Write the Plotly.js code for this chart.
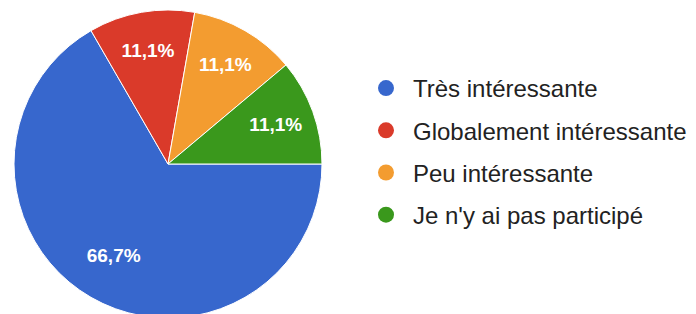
<!DOCTYPE html>
<html><head><meta charset="utf-8">
<script src="https://cdn.plot.ly/plotly-3.0.1.min.js"></script>
<style>html,body{margin:0;padding:0;overflow:hidden;background:#fff}#chart{width:696px;height:322px}</style>
</head><body><div id="chart"></div>
<script>
const labels = ["Très intéressante", "Globalement intéressante", "Peu intéressante", "Je n'y ai pas participé"];
const values = [6, 1, 1, 1];
const colors = ["#3767cd", "#da3a2a", "#f39c30", "#3a981c"];

const traces = [{
  type: 'pie',
  labels: labels,
  values: values,
  sort: false,
  direction: 'clockwise',
  rotation: 90,
  marker: {colors: colors, line: {color: '#ffffff', width: 1}},
  texttemplate: ['\u00a0<br>\u00a0<br>%{percent:.1%}\u00a0\u00a0\u00a0\u00a0\u00a0\u00a0', '%{percent:.1%}', '%{percent:.1%}', '%{percent:.1%}'],
  textposition: 'inside',
  insidetextorientation: 'horizontal',
  textfont: {family: 'Liberation Sans, Arial, sans-serif', size: 19, color: '#ffffff', weight: 'bold'},
  showlegend: false,
  hoverinfo: 'none',
  domain: {x: [14/696, 322/696], y: [1 - 318/322, 1 - 10/322]}
}];
labels.forEach((l, i) => traces.push({
  type: 'scatter', mode: 'markers', x: [null], y: [null], name: l,
  legendgroup: 'g' + i,
  marker: {color: colors[i], size: 16, symbol: 'circle'},
  hoverinfo: 'none'
}));

const layout = {
  width: 696, height: 322,
  margin: {l: 0, r: 0, t: 0, b: 0},
  paper_bgcolor: '#ffffff', plot_bgcolor: '#ffffff',
  separators: ', ',
  xaxis: {visible: false}, yaxis: {visible: false},
  showlegend: true,
  legend: {
    x: 359/696, xanchor: 'left', y: 1 - 66/322, yanchor: 'top',
    itemwidth: 44,
    font: {family: 'Liberation Sans, Arial, sans-serif', size: 24, color: '#222222'},
    tracegroupgap: 8, itemclick: false, itemdoubleclick: false
  }
};
Plotly.newPlot('chart', traces, layout, {displayModeBar: false, staticPlot: true});
</script></body></html>
